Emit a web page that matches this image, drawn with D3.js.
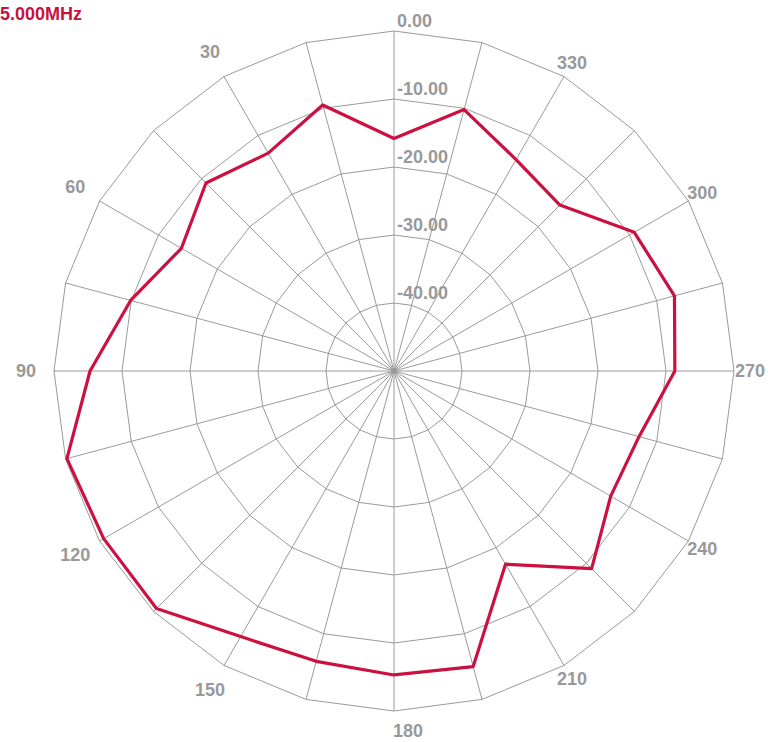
<!DOCTYPE html>
<html>
<head>
<meta charset="utf-8">
<script src="https://cdn.jsdelivr.net/npm/d3@7"></script>
<style>
	body { margin: 0; background: #fff; }
	svg { display: block; }
</style>
</head>
<body>
<div id="chart"></div>
<script>
// Data (dB at each bearing, bearings run counter-clockwise from top)
const frequencyLabel = '5.000MHz';
const bearings = [0, 15, 30, 45, 60, 75, 90, 105, 120, 135, 150, 165, 180, 195, 210, 225, 240, 255, 270, 285, 300, 315, 330, 345];
const gainDb = [-15.8, -9.5, -13.0, -10.9, -13.9, -9.9, -5.3, -0.2, -0.7, -0.6, -4.9, -5.8, -5.3, -5.0, -17.2, -8.9, -13.2, -12.7, -8.7, -7.3, -9.2, -15.5, -14.1, -10.2];
const ringTicks = [0, -10, -20, -30, -40];
const bearingLabels = [30, 60, 90, 120, 150, 180, 210, 240, 270, 300, 330];

const width = 768;
const height = 742;
const cx = 394;
const cy = 371;
const outerR = 340;
const font = 'Liberation Sans, Arial, sans-serif';

const svg = d3.select('#chart').append('svg').attr('width', width).attr('height', height);

// dB -> radius
const r = d3.scaleLinear().domain([-50, 0]).range([0, outerR]);
// bearing (deg, counter-clockwise) -> d3 radial angle (clockwise radians)
const ang = (deg) => (-deg * Math.PI) / 180;

const g = svg.append('g').attr('transform', `translate(${cx},${cy})`);

// Spokes every 15 degrees
const spokes = d3.range(0, 360, 15);
g.selectAll('.spoke')
	.data(spokes)
	.enter()
	.append('line')
	.attr('class', 'spoke')
	.attr('x1', 0)
	.attr('y1', 0)
	.attr('x2', (d) => d3.pointRadial(ang(d), r(0))[0])
	.attr('y2', (d) => d3.pointRadial(ang(d), r(0))[1])
	.attr('stroke', '#9a9a9a')
	.attr('stroke-width', 1);

// Rings drawn as polygons through the spokes
const ringLine = (v) =>
	d3
		.lineRadial()
		.angle((d) => ang(d))
		.radius(() => r(v))
		.curve(d3.curveLinearClosed)(spokes);

g.selectAll('.ring')
	.data(ringTicks)
	.enter()
	.append('path')
	.attr('class', 'ring')
	.attr('d', (d) => ringLine(d))
	.attr('fill', 'none')
	.attr('stroke', '#9a9a9a')
	.attr('stroke-width', 1);

// Ring values along the top spoke
g.selectAll('.ring-label')
	.data(ringTicks)
	.enter()
	.append('text')
	.attr('class', 'ring-label')
	.attr('x', 3)
	.attr('y', (d) => -r(d) - 4)
	.attr('font-family', font)
	.attr('font-weight', 'bold')
	.attr('font-size', 18)
	.attr('fill', '#999')
	.text((d) => d.toFixed(2));

// Bearing labels outside the outer ring (left side sits a bit further out)
const labelPad = (d) => (d === 180 ? 20 : d < 180 ? 28 : 16);
const labelPos = (d) => d3.pointRadial(ang(d), r(0) + labelPad(d));

g.selectAll('.bearing-label')
	.data(bearingLabels)
	.enter()
	.append('text')
	.attr('class', 'bearing-label')
	.attr('x', (d) => labelPos(d)[0] + (d === 180 ? 14 : 0))
	.attr('y', (d) => labelPos(d)[1])
	.attr('text-anchor', 'middle')
	.attr('dominant-baseline', 'central')
	.attr('font-family', font)
	.attr('font-weight', 'bold')
	.attr('font-size', 18)
	.attr('fill', '#999')
	.text((d) => d);

// Pattern trace
const trace = d3
	.lineRadial()
	.angle((d, i) => ang(bearings[i]))
	.radius((d) => r(d))
	.curve(d3.curveLinearClosed);

g.append('path')
	.datum(gainDb)
	.attr('d', trace)
	.attr('fill', 'none')
	.attr('stroke', '#cc1141')
	.attr('stroke-width', 3.2)
	.attr('stroke-linejoin', 'round');

// Frequency caption
svg.append('text')
	.attr('x', 0)
	.attr('y', 20)
	.attr('font-family', font)
	.attr('font-weight', 'bold')
	.attr('font-size', 18)
	.attr('fill', '#c8103c')
	.text(frequencyLabel);
</script>
</body>
</html>
